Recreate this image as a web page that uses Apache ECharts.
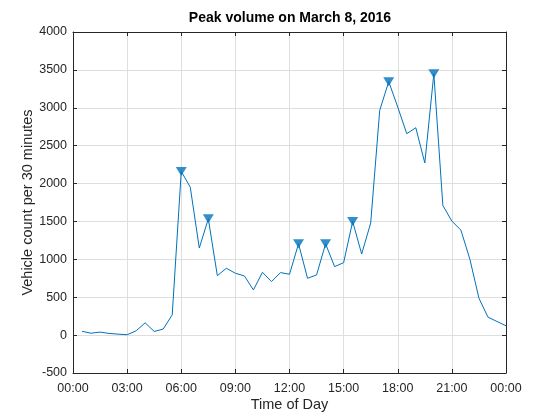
<!DOCTYPE html>
<html>
<head>
<meta charset="utf-8">
<script src="https://cdn.jsdelivr.net/npm/echarts@6/dist/echarts.min.js"></script>
<style>html,body{margin:0;padding:0;background:#fff;}#c{width:560px;height:420px;}</style>
</head>
<body>
<div id="c"></div>
<script>
var titleText = 'Peak volume on March 8, 2016';
var xName = 'Time of Day';
var yName = 'Vehicle count per 30 minutes';
var times = [0.5,1,1.5,2,2.5,3,3.5,4,4.5,5,5.5,6,6.5,7,7.5,8,8.5,9,9.5,10,10.5,11,11.5,12,
             12.5,13,13.5,14,14.5,15,15.5,16,16.5,17,17.5,18,18.5,19,19.5,20,20.5,21,21.5,22,22.5,23,23.5,24];
var counts = [50,25,40,22,13,5,57,162,48,80,268,2160,1952,1149,1535,785,882,816,781,596,829,706,825,803,
              1205,750,794,1205,904,956,1500,1070,1480,2965,3345,3009,2658,2737,2272,3450,1711,1504,1386,1000,487,237,180,123];
var peakTimes = [6,7.5,12.5,14,15.5,17.5,20];
var peakCounts = [2160,1535,1205,1205,1500,3345,3450];
var xTicks = [0,3,6,9,12,15,18,21,24];
var yTicks = [-500,0,500,1000,1500,2000,2500,3000,3500,4000];

var font = "'Liberation Sans', Arial, Helvetica, sans-serif";
var axisCol = '#262626';
var gridCol = '#dedede';
function fmtTime(v){ var h = Math.round(v) % 24; return (h < 10 ? '0' : '') + h + ':00'; }

var chart = echarts.init(document.getElementById('c'));
var lineData = times.map(function(t,i){ return [t, counts[i]]; });
var peakData = peakTimes.map(function(t,i){ return [t, peakCounts[i]]; });

var xBase = { type:'value', min:xTicks[0], max:xTicks[xTicks.length-1], interval:3 };
var yBase = { type:'value', min:yTicks[0], max:yTicks[yTicks.length-1], interval:500 };

chart.setOption({
  animation:false,
  backgroundColor:'#fff',
  title:{ text:titleText, left:290, textAlign:'center', top:11, padding:0,
          textStyle:{ fontFamily:font, fontSize:14, fontWeight:'bold', color:'#000' } },
  grid:{ left:73, right:54, top:32, bottom:47 },
  xAxis:[
    Object.assign({}, xBase, {
      position:'bottom', name:xName, nameLocation:'middle', nameGap:24, nameMoveOverlap:false,
      nameTextStyle:{ fontFamily:font, fontSize:14.5, color:axisCol },
      axisLine:{ show:true, onZero:false, lineStyle:{ color:axisCol, width:1 } },
      axisTick:{ show:true, inside:true, length:4, lineStyle:{ color:axisCol } },
      axisLabel:{ show:true, margin:9, fontFamily:font, fontSize:12.5, color:axisCol, formatter:fmtTime },
      splitLine:{ show:true, lineStyle:{ color:gridCol, width:1 } }
    }),
    Object.assign({}, xBase, {
      position:'top',
      axisLine:{ show:true, onZero:false, lineStyle:{ color:axisCol, width:1 } },
      axisTick:{ show:true, inside:true, length:4, lineStyle:{ color:axisCol } },
      axisLabel:{ show:false }, splitLine:{ show:false }
    })
  ],
  yAxis:[
    Object.assign({}, yBase, {
      position:'left', name:yName, nameLocation:'middle', nameGap:38, nameMoveOverlap:false,
      nameTextStyle:{ fontFamily:font, fontSize:14.5, color:axisCol },
      axisLine:{ show:true, onZero:false, lineStyle:{ color:axisCol, width:1 } },
      axisTick:{ show:true, inside:true, length:4, lineStyle:{ color:axisCol } },
      axisLabel:{ show:true, margin:6, fontFamily:font, fontSize:12.5, color:axisCol,
                  formatter:function(v){ return String(v); } },
      splitLine:{ show:true, lineStyle:{ color:gridCol, width:1 } }
    }),
    Object.assign({}, yBase, {
      position:'right',
      axisLine:{ show:true, onZero:false, lineStyle:{ color:axisCol, width:1 } },
      axisTick:{ show:true, inside:true, length:4, lineStyle:{ color:axisCol } },
      axisLabel:{ show:false }, splitLine:{ show:false }
    })
  ],
  series:[
    { type:'line', data:lineData, xAxisIndex:0, yAxisIndex:0, showSymbol:false, symbol:'none',
      lineStyle:{ color:'#0072BD', width:1 }, z:3 },
    { type:'scatter', data:peakData, xAxisIndex:0, yAxisIndex:0, symbol:'triangle', symbolRotate:180,
      symbolSize:[11,9], itemStyle:{ color:'#0072BD' }, z:4 }
  ]
});
</script>
</body>
</html>
